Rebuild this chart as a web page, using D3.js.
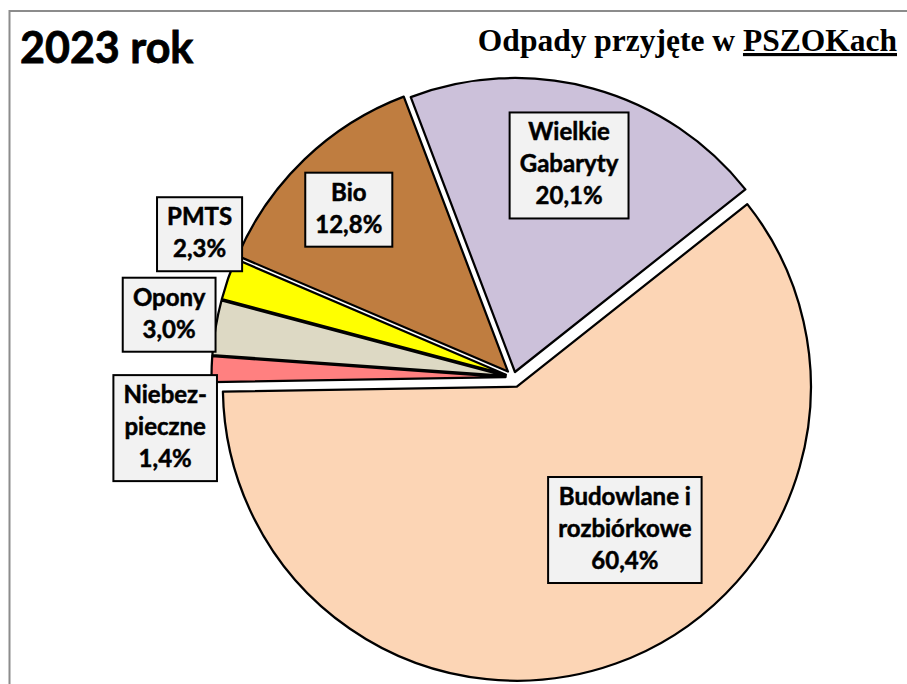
<!DOCTYPE html>
<html>
<head>
<meta charset="utf-8">
<script src="https://cdn.jsdelivr.net/npm/d3@7"></script>
<style>
  body { margin: 0; background: #fff; }
  svg { display: block; }
</style>
</head>
<body>
<svg></svg>
<script>
// dane z wykresu
var categories = ["Budowlane i rozbiórkowe", "Niebezpieczne", "Opony", "PMTS", "Bio", "Wielkie Gabaryty"];
var values = [60.4, 1.4, 3.0, 2.3, 12.8, 20.1];
var labelLines = [["Budowlane i", "rozbiórkowe"], ["Niebez-", "pieczne"], ["Opony"], ["PMTS"], ["Bio"], ["Wielkie", "Gabaryty"]];
var colors = ["#fcd5b5", "#ff8080", "#ddd9c4", "#ffff00", "#bf7d40", "#ccc1da"];
var explode = [10, 8, 8, 8, 8, 5.5];
// polozenie etykiet (kat w stopniach, odleglosc od srodka)
var labelPolar = [[143.9, 189], [261.7, 352], [280.3, 350], [294.5, 345], [315.5, 235], [14.7, 219]];

var screen = { width: 907, height: 684 };

var svg = d3.select("svg")
            .attr("width", screen.width)
            .attr("height", screen.height);

// ramka wykresu
svg.append("rect")
   .attr("x", 9.5)
   .attr("y", 11)
   .attr("width", 920)
   .attr("height", 700)
   .attr("fill", "none")
   .attr("stroke", "#8c8c8c")
   .attr("stroke-width", 2);

svg.append("text")
   .attr("x", 20)
   .attr("y", 63)
   .attr("font-family", "Lato")
   .attr("font-weight", "bold")
   .attr("font-size", 43)
   .attr("stroke", "#000")
   .attr("stroke-width", 0.8)
   .text("2023 rok");

var title = svg.append("text")
   .attr("x", 897)
   .attr("y", 51)
   .attr("text-anchor", "end")
   .attr("font-family", "Liberation Serif")
   .attr("font-weight", "bold")
   .attr("font-size", 31.5);
title.append("tspan").text("Odpady przyjęte w ");
title.append("tspan").attr("text-decoration", "underline").text("PSZOKach");

var center = { x: 513.5, y: 377.3 };
var radius = 294;
var rot = 51.6 * Math.PI / 180;

var pie = d3.pie()
            .sort(null)
            .value(function(d) { return d; })
            .startAngle(rot)
            .endAngle(rot + 2 * Math.PI);

var arc = d3.arc()
            .innerRadius(0)
            .outerRadius(radius);

var arcs = pie(values);

var pieLand = svg.append("g")
                 .attr("transform", "translate(" + center.x + "," + center.y + ")");

pieLand.selectAll("path")
       .data(arcs)
       .enter()
       .append("path")
       .attr("d", arc)
       .attr("fill", function(d, i) { return colors[i]; })
       .attr("stroke", "#000")
       .attr("stroke-width", 2.25)
       .attr("stroke-linejoin", "round")
       .attr("transform", function(d, i)
       {
         var mid = (d.startAngle + d.endAngle) / 2;
         return "translate(" + (Math.sin(mid) * explode[i]) + "," + (-Math.cos(mid) * explode[i]) + ")";
       });

var fmt = d3.format(".1f");
var lineH = 32;

var labels = pieLand.selectAll("g.label")
                    .data(arcs)
                    .enter()
                    .append("g")
                    .classed("label", true)
                    .attr("transform", function(d, i)
                    {
                      var a = labelPolar[i][0] * Math.PI / 180;
                      var r = labelPolar[i][1];
                      return "translate(" + (Math.sin(a) * r) + "," + (-Math.cos(a) * r) + ")";
                    });

labels.each(function(d, i)
{
  var g = d3.select(this);
  var lines = labelLines[i].concat([fmt(values[i]).replace(".", ",") + "%"]);
  var h = lines.length * lineH + 10;
  var box = g.append("rect")
             .attr("fill", "#f2f2f2")
             .attr("stroke", "#000")
             .attr("stroke-width", 2);
  var t = g.append("text")
           .attr("font-family", "Lato")
           .attr("font-weight", "bold")
           .attr("font-size", 24)
           .attr("stroke", "#000")
           .attr("stroke-width", 0.5)
           .attr("text-anchor", "middle");
  lines.forEach(function(s, k)
  {
    t.append("tspan")
     .attr("x", 0)
     .attr("y", -h / 2 + 28 + k * lineH)
     .text(s);
  });
  var w = t.node().getBBox().width + 20;
  box.attr("x", -w / 2)
     .attr("y", -h / 2)
     .attr("width", w)
     .attr("height", h);
});
</script>
</body>
</html>
